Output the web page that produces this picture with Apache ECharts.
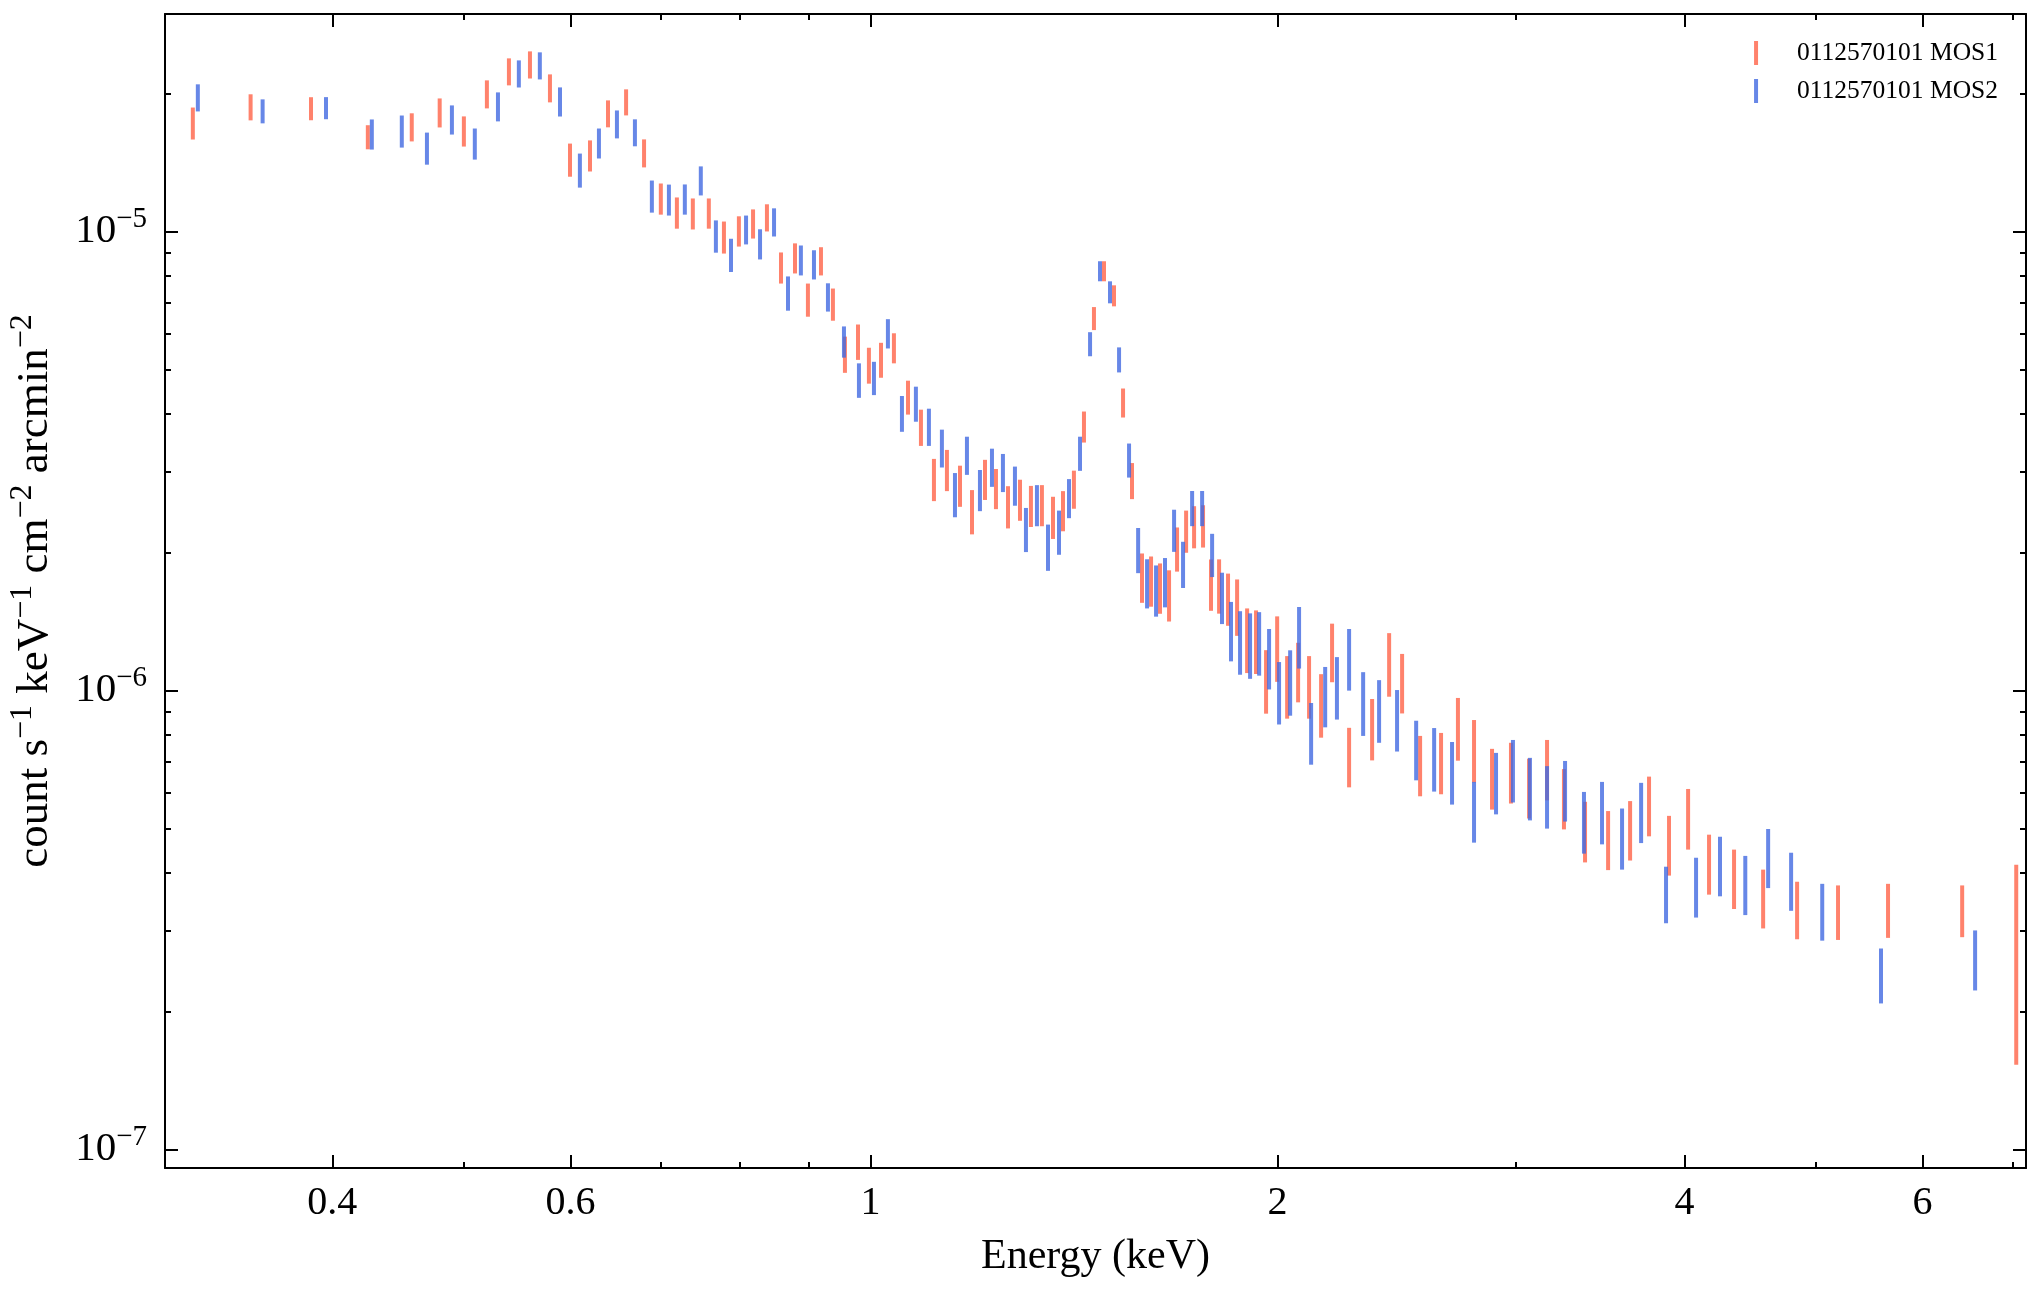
<!DOCTYPE html>
<html><head><meta charset="utf-8">
<script src="https://cdn.jsdelivr.net/npm/echarts@6/dist/echarts.min.js"></script>
<style>html,body{margin:0;padding:0;background:#fff}#chart{width:2040px;height:1289px}</style>
</head><body><div id="chart"></div>
<script>
// values are in units of 1e-6 count s^-1 keV^-1 cm^-2 arcmin^-2
const UNIT = 1e-6;

const mos1Energy = [0.3154,0.3480,0.3857,0.4249,0.4579,0.4802,0.5004,0.5204,0.5403,0.5600,0.5794,0.5995,0.6203,0.6396,0.6596,0.6801,0.6998,0.7192,0.7390,0.7594,0.7792,0.7993,0.8188,0.8384,0.8587,0.8794,0.8990,0.9192,0.9381,0.9575,0.9790,0.9974,1.0181,1.0408,1.0660,1.0898,1.1142,1.1391,1.1647,1.1888,1.2154,1.2383,1.2639,1.2900,1.3143,1.3391,1.3646,1.3880,1.4141,1.4385,1.4632,1.4884,1.5140,1.5375,1.5611,1.5880,1.6126,1.6374,1.6628,1.6856,1.7118,1.7352,1.7619,1.7860,1.8107,1.8385,1.8671,1.8992,1.9283,1.9615,1.9989,2.0332,2.0715,2.1105,2.1542,2.1948,2.2594,2.3497,2.4188,2.4728,2.5498,2.6424,2.7195,2.7951,2.8821,2.9765,3.0697,3.1651,3.2576,3.3767,3.5119,3.6460,3.7655,3.8959,4.0245,4.1706,4.3520,4.5730,4.8453,5.1951,5.6569,6.4180,7.0370];
const mos1Value = [17.24,18.68,18.54,16.07,16.90,18.17,16.56,19.94,22.32,23.11,20.55,14.35,14.65,18.08,19.15,14.83,11.80,11.00,10.95,10.97,9.73,10.03,10.41,10.73,8.35,8.76,7.11,8.63,6.95,5.41,5.76,5.12,5.26,5.58,4.36,3.75,2.89,3.03,2.80,2.46,2.89,2.76,2.52,2.61,2.53,2.54,2.39,2.47,2.75,3.76,6.47,8.20,7.25,4.24,2.87,1.77,1.74,1.68,1.62,2.04,2.23,2.28,2.29,1.71,1.70,1.59,1.53,1.30,1.29,1.057,1.247,1.028,1.106,1.028,0.937,1.220,0.722,0.831,1.151,1.046,0.692,0.701,0.833,0.746,0.648,0.668,0.618,0.678,0.586,0.497,0.476,0.500,0.565,0.464,0.530,0.422,0.392,0.355,0.335,0.331,0.334,0.333,0.285];
const mos1Error = [1.38,1.22,1.07,0.97,1.19,1.32,1.25,1.40,1.51,1.57,1.44,1.19,1.14,1.22,1.25,1.04,0.92,0.86,0.85,0.83,0.78,0.76,0.76,0.73,0.65,0.66,0.59,0.61,0.56,0.49,0.51,0.46,0.46,0.42,0.37,0.34,0.305,0.312,0.288,0.272,0.290,0.277,0.266,0.268,0.260,0.261,0.252,0.248,0.262,0.292,0.373,0.412,0.382,0.308,0.259,0.218,0.218,0.211,0.207,0.225,0.235,0.240,0.242,0.219,0.230,0.207,0.215,0.209,0.204,0.167,0.203,0.160,0.164,0.160,0.148,0.178,0.107,0.127,0.182,0.155,0.104,0.107,0.130,0.116,0.098,0.101,0.092,0.102,0.088,0.075,0.070,0.074,0.084,0.069,0.080,0.063,0.058,0.052,0.048,0.045,0.045,0.043,0.132];

const mos2Energy = [0.3181,0.3552,0.3957,0.4278,0.4502,0.4699,0.4903,0.5098,0.5303,0.5495,0.5695,0.5894,0.6097,0.6298,0.6494,0.6696,0.6892,0.7095,0.7290,0.7491,0.7686,0.7886,0.8091,0.8286,0.8486,0.8690,0.8883,0.9083,0.9302,0.9559,0.9806,1.0060,1.0302,1.0551,1.0805,1.1047,1.1294,1.1548,1.1786,1.2050,1.2299,1.2531,1.2790,1.3032,1.3278,1.3530,1.3786,1.4023,1.4289,1.4535,1.4783,1.5037,1.5271,1.5533,1.5775,1.6017,1.6264,1.6514,1.6771,1.7029,1.7294,1.7591,1.7893,1.8197,1.8478,1.8765,1.9088,1.9385,1.9716,2.0054,2.0436,2.0749,2.1179,2.1692,2.2131,2.2594,2.3141,2.3778,2.4517,2.5327,2.6115,2.6923,2.7951,2.9018,2.9866,3.0743,3.1651,3.2637,3.3705,3.4758,3.5964,3.7150,3.8761,4.0794,4.2490,4.4361,4.6121,4.7961,5.0572,5.5895,6.5610];
const mos2Value = [19.59,18.30,18.59,16.31,16.56,15.20,17.54,15.55,18.73,22.09,23.00,19.20,13.62,15.59,17.15,16.44,11.95,11.74,11.77,12.92,9.78,8.90,10.10,9.40,10.49,7.35,8.67,8.48,7.20,5.76,4.75,4.80,6.00,4.02,4.22,3.76,3.38,2.68,3.26,2.74,3.07,2.99,2.80,2.25,2.54,2.06,2.22,2.63,3.29,5.69,8.20,7.38,5.26,3.18,2.03,1.72,1.66,1.73,2.24,1.89,2.50,2.50,1.98,1.60,1.358,1.285,1.266,1.279,1.183,0.998,1.052,1.318,0.814,0.978,1.023,1.180,0.946,0.911,0.869,0.748,0.715,0.668,0.549,0.634,0.675,0.617,0.592,0.610,0.521,0.547,0.480,0.547,0.362,0.376,0.418,0.380,0.435,0.387,0.332,0.241,0.261];
const mos2Error = [1.33,1.10,1.03,1.23,1.33,1.22,1.28,1.21,1.36,1.50,1.56,1.40,1.16,1.17,1.20,1.11,0.96,0.91,0.89,0.94,0.79,0.74,0.73,0.71,0.74,0.63,0.65,0.62,0.51,0.45,0.41,0.40,0.44,0.36,0.37,0.35,0.32,0.296,0.311,0.282,0.293,0.285,0.274,0.248,0.261,0.238,0.245,0.257,0.281,0.343,0.412,0.407,0.330,0.271,0.229,0.211,0.212,0.213,0.236,0.218,0.220,0.220,0.214,0.205,0.201,0.203,0.206,0.202,0.178,0.155,0.171,0.202,0.125,0.147,0.159,0.181,0.150,0.142,0.133,0.111,0.113,0.104,0.083,0.097,0.105,0.096,0.092,0.092,0.080,0.085,0.073,0.082,0.051,0.056,0.062,0.056,0.064,0.056,0.047,0.033,0.039];

const seriesNames = ['0112570101 MOS1', '0112570101 MOS2'];
const xMajorTicks = [0.4, 0.6, 1, 2, 4, 6];
const xMinorTicks = [0.5, 0.7, 0.8, 0.9, 3, 5, 7];
const yMajorTicks = [1e-7, 1e-6, 1e-5];
const yMinorTicks = [2e-7,3e-7,4e-7,5e-7,6e-7,7e-7,8e-7,9e-7,2e-6,3e-6,4e-6,5e-6,6e-6,7e-6,8e-6,9e-6,2e-5];

const X_MIN = 0.3008, X_MAX = 7.155, Y_MIN = 9.11e-8, Y_MAX = 2.977e-5;
const FONT = "'Liberation Serif','Times New Roman',serif";

function toRows(E, V, S) {
  return E.map((e, i) => [e, V[i] * UNIT, S[i] * UNIT]);
}

function errorBar(params, api) {
  const x = api.value(0), v = api.value(1), e = api.value(2);
  const hi = api.coord([x, v + e]);
  const lo = api.coord([x, v - e]);
  return {
    type: 'rect',
    shape: { x: hi[0] - 2, y: hi[1], width: 4, height: lo[1] - hi[1] },
    style: { fill: api.visual('color') }
  };
}

const blackLine = { color: '#000', width: 2 };

function xAxisDef(pos, ticks, len, withLabel) {
  const a = {
    type: 'log', logBase: 10, min: X_MIN, max: X_MAX, position: pos, gridIndex: 0,
    axisLine: { show: withLabel !== null, onZero: false, lineStyle: blackLine },
    axisTick: { show: true, inside: true, length: len, customValues: ticks, lineStyle: { color: '#000', width: 2 } },
    axisLabel: { show: false },
    splitLine: { show: false }, minorTick: { show: false }, minorSplitLine: { show: false }
  };
  if (withLabel === true) {
    a.axisLabel = {
      show: true, customValues: ticks, margin: 15, color: '#000', fontSize: 40, fontFamily: FONT,
      formatter: v => String(Math.round(v * 10) / 10)
    };
    a.name = 'Energy (keV)';
    a.nameLocation = 'middle';
    a.nameGap = 68;
    a.nameTextStyle = { color: '#000', fontSize: 42, fontFamily: FONT };
  }
  return a;
}

function yAxisDef(pos, ticks, len, withLabel) {
  const a = {
    type: 'log', logBase: 10, min: Y_MIN, max: Y_MAX, position: pos, gridIndex: 0,
    axisLine: { show: withLabel !== null, onZero: false, lineStyle: blackLine },
    axisTick: { show: true, inside: true, length: len, customValues: ticks, lineStyle: { color: '#000', width: 2 } },
    axisLabel: { show: false },
    splitLine: { show: false }, minorTick: { show: false }, minorSplitLine: { show: false }
  };
  if (withLabel === true) {
    a.axisLabel = {
      show: true, customValues: ticks, margin: 18, color: '#000', fontFamily: FONT,
      formatter: v => '{m|10}{e|\u2212' + (-Math.round(Math.log10(v))) + '}',
      rich: {
        m: { fontSize: 41, lineHeight: 54, fontFamily: FONT, color: '#000' },
        e: { fontSize: 29, lineHeight: 29, verticalAlign: 'top', fontFamily: FONT, color: '#000' }
      }
    };
    a.name = 'count s{s|\u22121} keV{s|\u22121} cm{s|\u22122} arcmin{s|\u22122}';
    a.nameLocation = 'middle';
    a.nameGap = 97;
    a.nameTextStyle = {
      color: '#000', fontSize: 45, lineHeight: 58, fontFamily: FONT,
      rich: { s: { fontSize: 32, lineHeight: 32, verticalAlign: 'top', fontFamily: FONT, color: '#000' } }
    };
  }
  return a;
}

const chart = echarts.init(document.getElementById('chart'), null, { renderer: 'canvas' });
chart.setOption({
  backgroundColor: '#fff',
  animation: false,
  grid: { left: 165, right: 14, top: 14, bottom: 121, containLabel: false, outerBoundsMode: 'none' },
  legend: {
    data: seriesNames, orient: 'vertical', right: 37, top: 35, align: 'left',
    icon: 'rect', itemWidth: 4, itemHeight: 24, itemGap: 12,
    textStyle: { color: '#000', fontSize: 25.5, fontFamily: FONT, padding: [0, 0, 0, 34] }
  },
  xAxis: [
    xAxisDef('bottom', xMajorTicks, 13, true),
    xAxisDef('bottom', xMinorTicks, 6, null),
    xAxisDef('top', xMajorTicks, 13, false),
    xAxisDef('top', xMinorTicks, 6, null)
  ],
  yAxis: [
    yAxisDef('left', yMajorTicks, 13, true),
    yAxisDef('left', yMinorTicks, 6, null),
    yAxisDef('right', yMajorTicks, 13, false),
    yAxisDef('right', yMinorTicks, 6, null)
  ],
  series: [
    { name: seriesNames[0], type: 'custom', xAxisIndex: 0, yAxisIndex: 0, renderItem: errorBar,
      itemStyle: { color: 'rgba(255,99,71,0.8)' }, encode: { x: 0, y: 1 },
      data: toRows(mos1Energy, mos1Value, mos1Error), z: 2 },
    { name: seriesNames[1], type: 'custom', xAxisIndex: 0, yAxisIndex: 0, renderItem: errorBar,
      itemStyle: { color: 'rgba(65,105,225,0.8)' }, encode: { x: 0, y: 1 },
      data: toRows(mos2Energy, mos2Value, mos2Error), z: 3 }
  ]
});
</script>
</body></html>
